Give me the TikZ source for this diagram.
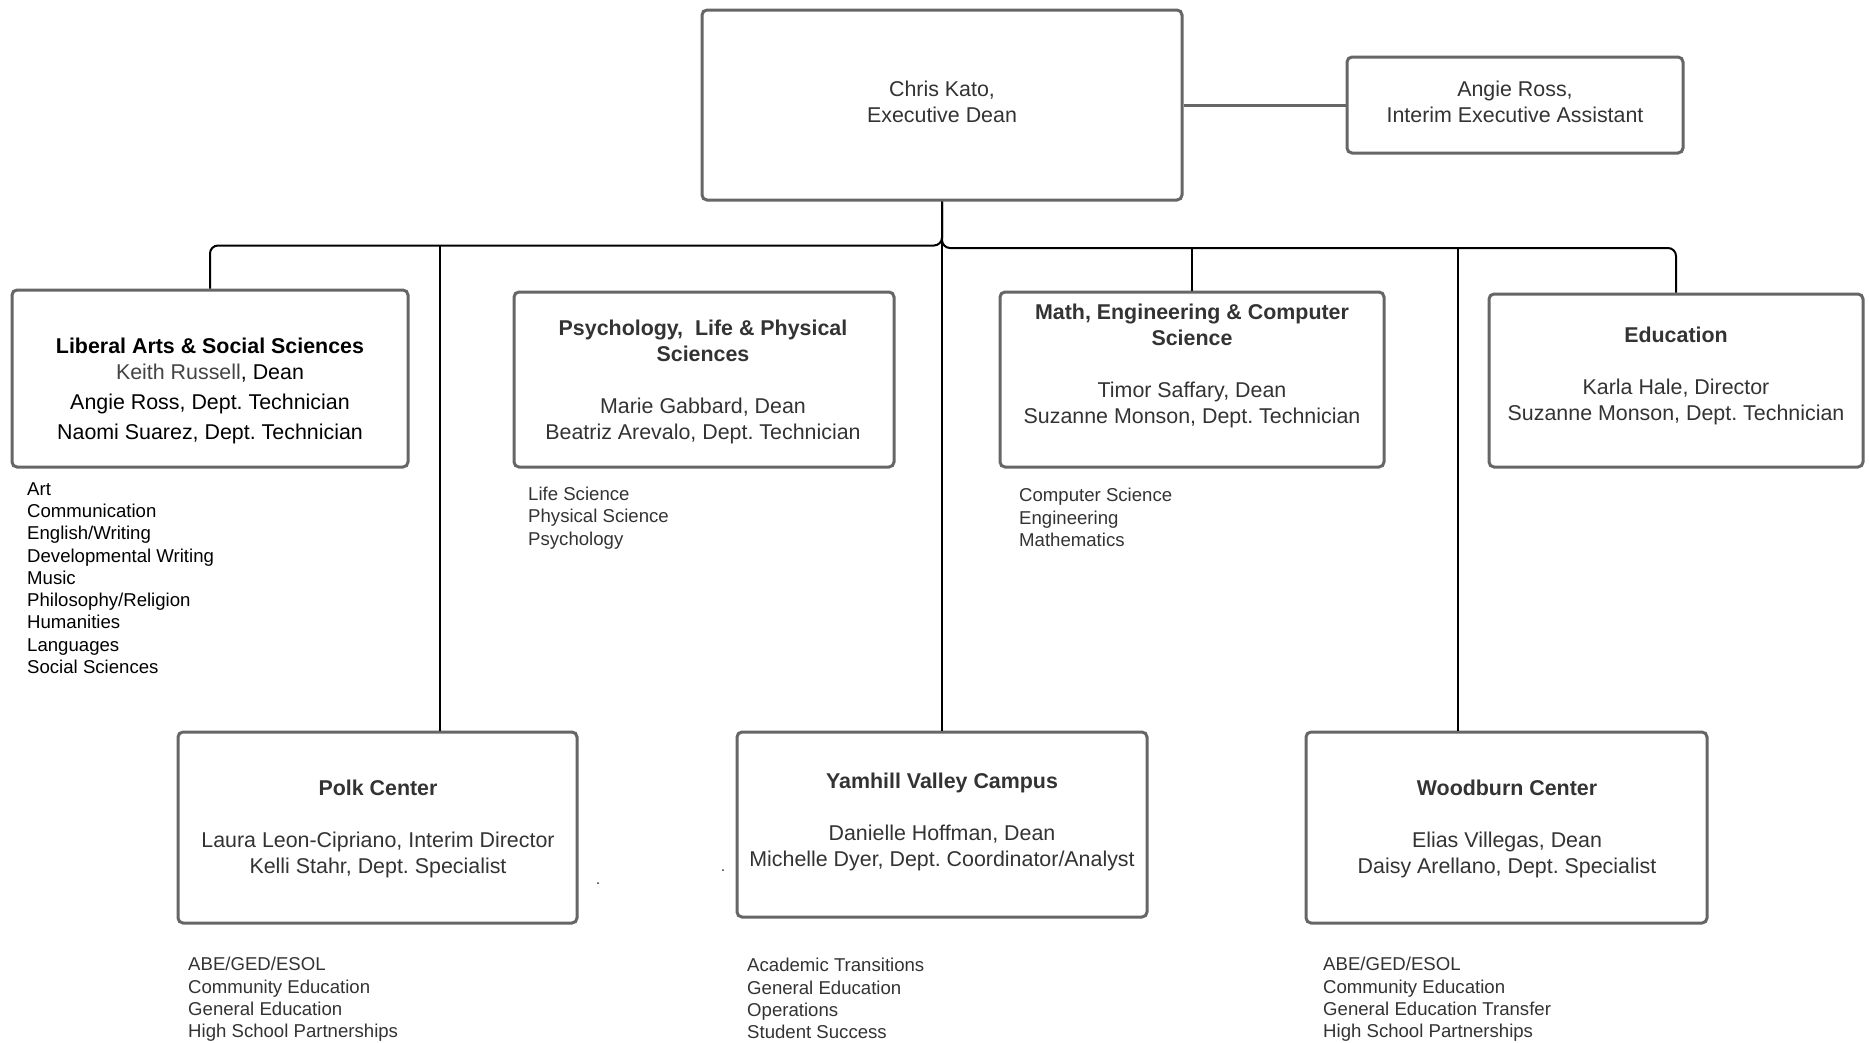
\documentclass[tikz,border=0pt]{standalone}
\usepackage{fontspec}
\setmainfont{Liberation Sans}
\definecolor{boxgray}{HTML}{666666}
\definecolor{txt}{HTML}{333333}
\definecolor{keith}{HTML}{444444}
\tikzset{
  orgbox/.style={draw=boxgray, line width=3pt, rounded corners=5pt, inner sep=0pt, fill=white},
  conn/.style={draw=black, line width=2pt},
  sideconn/.style={draw=boxgray, line width=3pt},
  boxtext/.style={align=center, font=\fontsize{21.4}{26}\selectfont, text=txt, inner sep=0pt},
  listtext/.style={align=left, font=\fontsize{18.6}{22.3}\selectfont, text=txt, inner sep=0pt, anchor=west},
}
\frenchspacing
\begin{document}
\frenchspacing
\begin{tikzpicture}[x=1pt, y=-1pt]
\useasboundingbox (0,0) rectangle (1869,1042);
\fill[white] (0,0) rectangle (1869,1042);

% boxes
\node[orgbox, minimum width=480pt, minimum height=190pt] (chris) at (942,105) {};
\node[orgbox, minimum width=336pt, minimum height=96pt] (angie) at (1515,105) {};
\node[orgbox, minimum width=396pt, minimum height=177pt] (la) at (210,378.5) {};
\node[orgbox, minimum width=380pt, minimum height=175pt] (psy) at (704,379.5) {};
\node[orgbox, minimum width=384pt, minimum height=175pt] (math) at (1192,379.5) {};
\node[orgbox, minimum width=374pt, minimum height=173pt] (edu) at (1676,380.5) {};
\node[orgbox, minimum width=399pt, minimum height=191pt] (polk) at (377.5,827.5) {};
\node[orgbox, minimum width=410pt, minimum height=185pt] (yam) at (942,824.5) {};
\node[orgbox, minimum width=401pt, minimum height=191pt] (wood) at (1506.5,827.5) {};

% connectors
\coordinate (busl) at (0,245.5);
\coordinate (busr) at (0,248);
\coordinate (pj) at (440,245.5);
\coordinate (wj) at (1458,248);
\draw[sideconn] (chris.east) -- (angie.west);
\draw[conn, rounded corners=8pt] (chris.south) -- (chris.south |- busl) -| (la.north);
\draw[conn, rounded corners=8pt] (chris.south) -- (chris.south |- busr) -| (edu.north);
\draw[conn] (chris.south) -- (yam.north);
\draw[conn] (pj) -- (pj |- polk.north);
\draw[conn] (wj) -- (wj |- wood.north);
\draw[conn] (math.north |- busr) -- (math.north);

% box texts
\node[boxtext] (chrisT) at (942,102) {Chris Kato,\\Executive Dean};
\node[boxtext] (angieT) at (1515,102) {Angie Ross,\\Interim Executive Assistant};
\node[boxtext, text=black] (laT) at (210,391) {\textbf{Liberal Arts \& Social Sciences}\\{\color{keith}Keith Russell}, Dean\\[4pt]Angie Ross, Dept. Technician\\[4pt]Naomi Suarez, Dept. Technician};
\node[boxtext] (psyT) at (703,381.5) {\textbf{Psychology,\ \ Life \& Physical}\\\textbf{Sciences}\\[26pt]Marie Gabbard, Dean\\Beatriz Arevalo, Dept. Technician};
\node[boxtext] (mathT) at (1192,366) {\textbf{Math, Engineering \& Computer}\\\textbf{Science}\\[26pt]Timor Saffary, Dean\\Suzanne Monson, Dept. Technician};
\node[boxtext] (eduT) at (1676,376) {\textbf{Education}\\[26pt]Karla Hale, Director\\Suzanne Monson, Dept. Technician};
\node[boxtext] (polkT) at (378,828.5) {\textbf{Polk Center}\\[26pt]Laura Leon-Cipriano, Interim Director\\Kelli Stahr, Dept. Specialist};
\node[boxtext] (yamT) at (942,822) {\textbf{Yamhill Valley Campus}\\[26pt]Danielle Hoffman, Dean\\Michelle Dyer, Dept. Coordinator/Analyst};
\node[boxtext] (woodT) at (1507,828.5) {\textbf{Woodburn Center}\\[26pt]Elias Villegas, Dean\\Daisy Arellano, Dept. Specialist};

% lists
\node[listtext, text=black] (laL) at (27,578) {Art\\Communication\\English/Writing\\Developmental Writing\\Music\\Philosophy/Religion\\Humanities\\Languages\\Social Sciences};
\node[listtext] (psyL) at (528,518) {Life Science\\Physical Science\\Psychology};
\node[listtext] (mathL) at (1019,517.5) {Computer Science\\Engineering\\Mathematics};
\node[listtext] (polkL) at (188,999.5) {ABE/GED/ESOL\\Community Education\\General Education\\High School Partnerships};
\node[listtext] (yamL) at (747,998.5) {Academic Transitions\\General Education\\Operations\\Student Success};
\node[listtext] (woodL) at (1323,999.5) {ABE/GED/ESOL\\Community Education\\General Education Transfer\\High School Partnerships};

% stray dots
\fill[txt] (598,883) circle (1pt);
\fill[txt] (723,870) circle (1pt);
\end{tikzpicture}
\end{document}
